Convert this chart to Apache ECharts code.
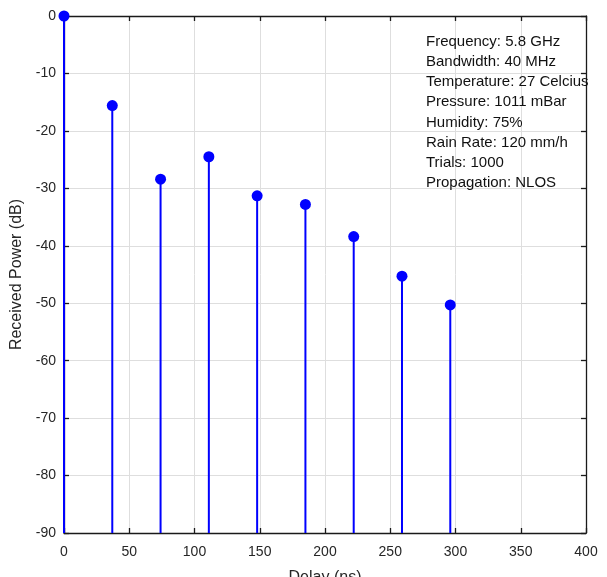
<!DOCTYPE html>
<html>
<head>
<meta charset="utf-8">
<script src="https://cdn.jsdelivr.net/npm/echarts@6/dist/echarts.min.js"></script>
<style>
  html, body { margin: 0; padding: 0; background: #fff; }
  #chart { width: 607px; height: 577px; }
</style>
</head>
<body>
<div id="chart"></div>
<script>
// Power delay profile: delay (ns) and received power (dB)
const delays = [0, 37, 74, 111, 148, 185, 222, 259, 296];
const powers = [0, -15.6, -28.4, -24.5, -31.3, -32.8, -38.4, -45.3, -50.3];
const xTicks = { min: 0, max: 400, step: 50 };
const yTicks = { min: -90, max: 0, step: 10 };
const infoLines = [
  'Frequency: 5.8 GHz',
  'Bandwidth: 40 MHz',
  'Temperature: 27 Celcius',
  'Pressure: 1011 mBar',
  'Humidity: 75%',
  'Rain Rate: 120 mm/h',
  'Trials: 1000',
  'Propagation: NLOS'
];

const FONT = 'Liberation Sans, Arial, sans-serif';
const stemData = delays.map((d, i) => [d, powers[i]]);

const chart = echarts.init(document.getElementById('chart'));

const frameAxis = {
  axisLine: { show: true, onZero: false, lineStyle: { color: '#1a1a1a', width: 1.3 } },
  axisTick: { show: true, inside: true, length: 5, lineStyle: { color: '#1a1a1a', width: 1.3 } }
};

chart.setOption({
  animation: false,
  backgroundColor: '#ffffff',
  grid: { left: 64, top: 16, right: 21, bottom: 44, containLabel: false, outerBoundsMode: 'none' },
  xAxis: [
    Object.assign({
      type: 'value', position: 'bottom',
      min: xTicks.min, max: xTicks.max, interval: xTicks.step,
      name: 'Delay (ns)', nameLocation: 'middle', nameGap: 37,
      nameTextStyle: { fontFamily: FONT, fontSize: 16, color: '#262626' },
      axisLabel: { fontFamily: FONT, fontSize: 14, color: '#262626', margin: 12 },
      splitLine: { show: true, lineStyle: { color: '#dedede', width: 1 } }
    }, frameAxis),
    Object.assign({
      type: 'value', position: 'top',
      min: xTicks.min, max: xTicks.max, interval: xTicks.step,
      axisLabel: { show: false }, splitLine: { show: false }
    }, frameAxis)
  ],
  yAxis: [
    Object.assign({
      type: 'value', position: 'left',
      min: yTicks.min, max: yTicks.max, interval: yTicks.step,
      name: 'Received Power (dB)', nameLocation: 'middle', nameGap: 32,
      nameTextStyle: { fontFamily: FONT, fontSize: 16, color: '#262626' },
      axisLabel: { fontFamily: FONT, fontSize: 14, color: '#262626', margin: 8 },
      splitLine: { show: true, lineStyle: { color: '#dedede', width: 1 } }
    }, frameAxis),
    Object.assign({
      type: 'value', position: 'right',
      min: yTicks.min, max: yTicks.max, interval: yTicks.step,
      axisLabel: { show: false }, splitLine: { show: false }
    }, frameAxis)
  ],
  series: [
    {
      // vertical stems from the bottom of the axis up to each value
      type: 'custom',
      xAxisIndex: 0, yAxisIndex: 0,
      clip: false,
      data: stemData,
      renderItem: function (params, api) {
        const top = api.coord([api.value(0), api.value(1)]);
        const bottom = api.coord([api.value(0), yTicks.min]);
        return {
          type: 'line',
          shape: { x1: top[0], y1: top[1], x2: bottom[0], y2: bottom[1] },
          style: { stroke: '#0000ff', lineWidth: 2 }
        };
      },
      z: 3
    },
    {
      type: 'scatter',
      xAxisIndex: 0, yAxisIndex: 0,
      data: stemData,
      symbol: 'circle',
      symbolSize: 11,
      clip: false,
      itemStyle: { color: '#0000ff', opacity: 1 },
      z: 4
    }
  ],
  graphic: [
    {
      type: 'text',
      left: 426,
      top: 32,
      z: 10,
      style: {
        text: infoLines.join('\n'),
        fontFamily: FONT,
        fontSize: 15,
        lineHeight: 20.1,
        fill: '#111111'
      }
    }
  ]
});
</script>
</body>
</html>
